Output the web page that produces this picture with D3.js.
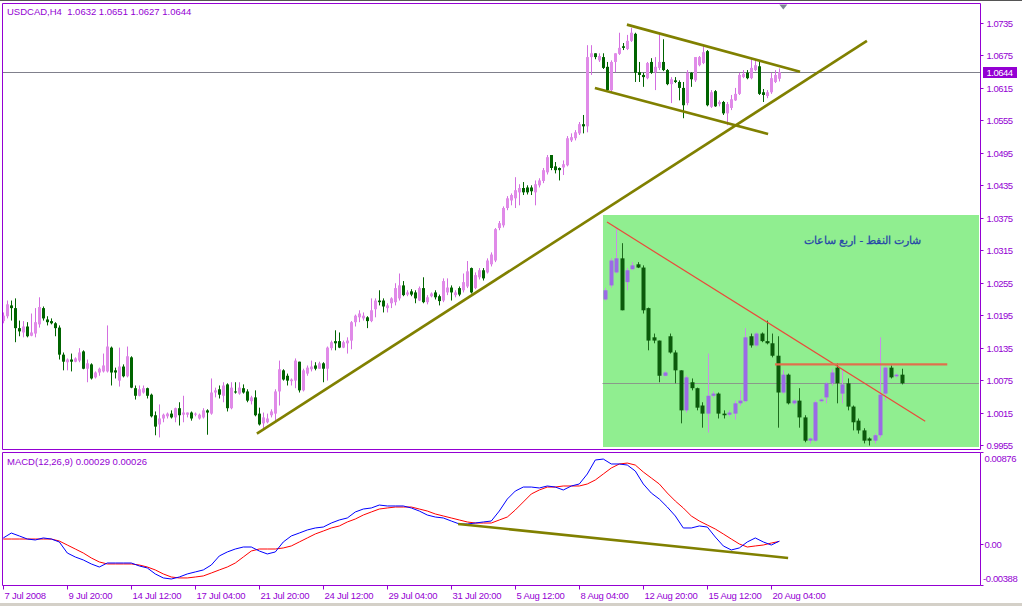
<!DOCTYPE html>
<html><head><meta charset="utf-8">
<script src="https://cdn.jsdelivr.net/npm/d3@7"></script>
<style>
html,body{margin:0;padding:0;background:#fff;overflow:hidden;}
svg{display:block;}
text{font-family:"Liberation Sans",Arial,sans-serif;}
</style></head><body>
<svg id="c" width="1022" height="606"></svg>
<script>
// ---------------- DATA ----------------
const symbolTitle = "USDCAD,H4  1.0632 1.0651 1.0627 1.0644";
const macdTitle = "MACD(12,26,9) 0.00029 0.00026";
const dateLabels = ["7 Jul 2008","9 Jul 20:00","14 Jul 12:00","17 Jul 04:00","21 Jul 20:00","24 Jul 12:00","29 Jul 04:00","31 Jul 20:00","5 Aug 12:00","8 Aug 04:00","12 Aug 20:00","15 Aug 12:00","20 Aug 04:00"];
const dateLabelBars = [0,16,32,48,64,80,96,112,128,144,160,176,192];
const priceTicks = [0.9955,1.0015,1.0075,1.0135,1.0195,1.0255,1.0315,1.0375,1.0435,1.0495,1.0555,1.0615,1.0675,1.0735];
const macdTicks = [0.00876,0.0,-0.00388];
const macdTickLabels = ["0.00876","0.00","-0.00388"];
const lastPrice = 1.0644;

const openP = [1.0184,1.0193,1.0213,1.0208,1.0171,1.0163,1.0174,1.0157,1.0161,1.0178,1.0208,1.0187,1.0184,1.0180,1.0172,1.0122,1.0108,1.0113,1.0109,1.0111,
1.0128,1.0096,1.0104,1.0080,1.0089,1.0091,1.0091,1.0135,1.0093,1.0074,1.0100,1.0082,1.0117,1.0060,1.0046,1.0052,1.0060,1.0048,1.0010,0.9993,
1.0004,1.0008,1.0013,1.0006,1.0023,1.0011,1.0011,1.0015,1.0011,1.0004,1.0006,1.0019,1.0013,1.0052,1.0058,1.0046,1.0067,1.0023,1.0054,1.0050,
1.0060,1.0054,1.0036,1.0043,1.0013,0.9995,0.9997,1.0010,1.0013,1.0054,1.0093,1.0083,1.0073,1.0074,1.0109,1.0056,1.0087,1.0095,1.0102,1.0096,
1.0106,1.0096,1.0134,1.0147,1.0147,1.0135,1.0143,1.0148,1.0182,1.0191,1.0189,1.0191,1.0184,1.0206,1.0222,1.0222,1.0208,1.0217,1.0219,1.0226,
1.0250,1.0233,1.0239,1.0237,1.0222,1.0245,1.0219,1.0230,1.0237,1.0230,1.0222,1.0237,1.0246,1.0232,1.0245,1.0241,1.0248,1.0282,1.0245,1.0265,
1.0278,1.0274,1.0289,1.0296,1.0356,1.0361,1.0393,1.0407,1.0411,1.0422,1.0430,1.0431,1.0431,1.0422,1.0435,1.0443,1.0459,1.0491,1.0470,1.0467,
1.0468,1.0472,1.0518,1.0522,1.0531,1.0548,1.0544,1.0672,1.0679,1.0666,1.0672,1.0654,1.0611,1.0663,1.0678,1.0692,1.0687,1.0702,1.0715,1.0644,
1.0639,1.0633,1.0663,1.0644,1.0652,1.0663,1.0648,1.0622,1.0629,1.0626,1.0615,1.0587,1.0643,1.0629,1.0657,1.0661,1.0683,1.0580,1.0609,1.0585,
1.0589,1.0568,1.0578,1.0592,1.0604,1.0635,1.0643,1.0633,1.0648,1.0655,1.0607,1.0600,1.0607,1.0626,1.0632];
const highP = [1.0200,1.0222,1.0222,1.0226,1.0185,1.0184,1.0182,1.0198,1.0208,1.0228,1.0211,1.0193,1.0189,1.0182,1.0176,1.0126,1.0115,1.0124,1.0117,1.0134,
1.0130,1.0113,1.0106,1.0091,1.0098,1.0124,1.0176,1.0137,1.0098,1.0135,1.0104,1.0137,1.0119,1.0065,1.0065,1.0065,1.0061,1.0050,1.0017,1.0030,
1.0013,1.0015,1.0019,1.0024,1.0034,1.0046,1.0015,1.0017,1.0015,1.0013,1.0023,1.0021,1.0078,1.0061,1.0065,1.0071,1.0069,1.0071,1.0071,1.0071,
1.0067,1.0058,1.0046,1.0056,1.0024,1.0015,1.0013,1.0021,1.0058,1.0111,1.0095,1.0087,1.0078,1.0115,1.0109,1.0096,1.0102,1.0111,1.0108,1.0109,
1.0108,1.0137,1.0148,1.0167,1.0163,1.0148,1.0154,1.0184,1.0196,1.0204,1.0200,1.0193,1.0226,1.0226,1.0241,1.0226,1.0217,1.0228,1.0254,1.0272,
1.0258,1.0241,1.0243,1.0241,1.0248,1.0265,1.0232,1.0237,1.0241,1.0233,1.0263,1.0263,1.0250,1.0241,1.0248,1.0272,1.0295,1.0283,1.0274,1.0282,
1.0282,1.0300,1.0311,1.0356,1.0369,1.0396,1.0415,1.0420,1.0450,1.0437,1.0441,1.0435,1.0435,1.0444,1.0448,1.0467,1.0491,1.0491,1.0478,1.0468,
1.0481,1.0526,1.0531,1.0537,1.0552,1.0565,1.0694,1.0694,1.0679,1.0679,1.0679,1.0663,1.0666,1.0679,1.0717,1.0698,1.0713,1.0726,1.0717,1.0663,
1.0643,1.0663,1.0670,1.0672,1.0717,1.0705,1.0650,1.0635,1.0635,1.0629,1.0626,1.0648,1.0644,1.0672,1.0674,1.0694,1.0685,1.0611,1.0611,1.0592,
1.0591,1.0589,1.0602,1.0615,1.0643,1.0648,1.0648,1.0670,1.0668,1.0666,1.0613,1.0611,1.0643,1.0648,1.0651];
const lowP = [1.0180,1.0189,1.0185,1.0145,1.0156,1.0154,1.0154,1.0156,1.0154,1.0172,1.0185,1.0176,1.0178,1.0156,1.0113,1.0093,1.0093,1.0091,1.0108,1.0108,
1.0095,1.0071,1.0076,1.0078,1.0083,1.0089,1.0089,1.0065,1.0078,1.0063,1.0080,1.0080,1.0060,1.0039,1.0045,1.0050,1.0041,1.0006,0.9973,0.9969,
0.9997,1.0004,1.0004,0.9997,0.9991,0.9997,1.0006,1.0000,1.0008,1.0002,1.0004,0.9974,1.0011,1.0043,1.0041,1.0034,1.0017,1.0021,1.0050,1.0048,
1.0050,1.0034,1.0030,1.0008,0.9991,0.9986,0.9995,1.0006,0.9997,1.0028,1.0074,1.0065,1.0065,1.0060,1.0052,1.0054,1.0083,1.0091,1.0093,1.0096,
1.0071,1.0074,1.0130,1.0130,1.0134,1.0134,1.0124,1.0132,1.0174,1.0182,1.0185,1.0171,1.0182,1.0191,1.0213,1.0200,1.0200,1.0208,1.0213,1.0222,
1.0230,1.0230,1.0230,1.0217,1.0221,1.0217,1.0215,1.0228,1.0224,1.0213,1.0219,1.0232,1.0222,1.0228,1.0230,1.0237,1.0245,1.0235,1.0243,1.0261,
1.0259,1.0272,1.0285,1.0293,1.0352,1.0357,1.0389,1.0398,1.0393,1.0398,1.0417,1.0418,1.0417,1.0398,1.0431,1.0439,1.0455,1.0463,1.0457,1.0444,
1.0454,1.0470,1.0515,1.0518,1.0528,1.0531,1.0533,1.0639,1.0668,1.0663,1.0650,1.0609,1.0607,1.0644,1.0676,1.0685,1.0685,1.0700,1.0626,1.0626,
1.0617,1.0631,1.0641,1.0611,1.0648,1.0646,1.0620,1.0587,1.0624,1.0592,1.0559,1.0583,1.0617,1.0626,1.0655,1.0659,1.0581,1.0578,1.0580,1.0581,
1.0565,1.0546,1.0574,1.0591,1.0602,1.0633,1.0631,1.0631,1.0646,1.0602,1.0589,1.0596,1.0604,1.0624,1.0627];
const closeP = [1.0194,1.0215,1.0208,1.0171,1.0165,1.0174,1.0156,1.0163,1.0182,1.0210,1.0189,1.0182,1.0180,1.0171,1.0122,1.0109,1.0113,1.0109,1.0115,1.0126,
1.0096,1.0106,1.0078,1.0089,1.0096,1.0102,1.0137,1.0089,1.0089,1.0100,1.0082,1.0119,1.0061,1.0046,1.0058,1.0060,1.0046,1.0008,0.9989,1.0004,
1.0011,1.0013,1.0006,1.0023,1.0010,1.0015,1.0015,1.0004,1.0013,1.0011,1.0019,1.0015,1.0052,1.0056,1.0048,1.0065,1.0023,1.0061,1.0052,1.0061,
1.0052,1.0037,1.0043,1.0010,0.9993,1.0006,1.0004,1.0017,1.0054,1.0095,1.0076,1.0074,1.0076,1.0111,1.0056,1.0093,1.0098,1.0100,1.0096,1.0106,
1.0096,1.0135,1.0145,1.0143,1.0135,1.0145,1.0148,1.0182,1.0194,1.0198,1.0194,1.0184,1.0204,1.0222,1.0219,1.0211,1.0213,1.0226,1.0245,1.0250,
1.0232,1.0237,1.0233,1.0226,1.0245,1.0219,1.0228,1.0235,1.0228,1.0221,1.0258,1.0246,1.0237,1.0237,1.0233,1.0256,1.0276,1.0237,1.0269,1.0278,
1.0263,1.0296,1.0307,1.0354,1.0365,1.0393,1.0411,1.0417,1.0426,1.0430,1.0422,1.0422,1.0424,1.0437,1.0444,1.0463,1.0487,1.0467,1.0463,1.0463,
1.0474,1.0522,1.0524,1.0533,1.0548,1.0544,1.0672,1.0679,1.0672,1.0674,1.0652,1.0611,1.0663,1.0679,1.0689,1.0689,1.0702,1.0717,1.0643,1.0639,
1.0635,1.0661,1.0643,1.0654,1.0663,1.0648,1.0622,1.0631,1.0626,1.0615,1.0583,1.0643,1.0631,1.0672,1.0672,1.0681,1.0583,1.0607,1.0581,1.0589,
1.0568,1.0585,1.0594,1.0604,1.0639,1.0641,1.0633,1.0652,1.0657,1.0604,1.0602,1.0607,1.0633,1.0639,1.0644];

// MACD values read every 2nd bar (bars 0,2,...,194)
const macdBarStep = 2;
const macdMain = [59e-5,106e-5,78e-5,49e-5,40e-5,59e-5,49e-5,21e-5,-84e-5,-122e-5,
-150e-5,-188e-5,-217e-5,-179e-5,-179e-5,-179e-5,-179e-5,-207e-5,-226e-5,-283e-5,
-321e-5,-331e-5,-312e-5,-283e-5,-264e-5,-245e-5,-198e-5,-112e-5,-74e-5,-46e-5,
-27e-5,-27e-5,-65e-5,-93e-5,-74e-5,21e-5,78e-5,106e-5,135e-5,154e-5,
163e-5,201e-5,230e-5,249e-5,306e-5,334e-5,344e-5,372e-5,363e-5,363e-5,
363e-5,344e-5,315e-5,277e-5,258e-5,249e-5,220e-5,192e-5,192e-5,201e-5,
211e-5,220e-5,315e-5,429e-5,505e-5,543e-5,543e-5,534e-5,553e-5,543e-5,
515e-5,553e-5,572e-5,667e-5,800e-5,809e-5,762e-5,762e-5,752e-5,695e-5,
572e-5,486e-5,429e-5,353e-5,268e-5,154e-5,154e-5,173e-5,163e-5,68e-5,
-17e-5,-55e-5,-36e-5,21e-5,59e-5,21e-5,-8e-5,29e-5];
const macdSignal = [49e-5,49e-5,49e-5,49e-5,49e-5,49e-5,49e-5,30e-5,-8e-5,-46e-5,
-84e-5,-131e-5,-169e-5,-188e-5,-188e-5,-188e-5,-188e-5,-198e-5,-217e-5,-245e-5,
-283e-5,-312e-5,-321e-5,-321e-5,-312e-5,-302e-5,-274e-5,-245e-5,-217e-5,-179e-5,
-122e-5,-65e-5,-46e-5,-46e-5,-46e-5,-36e-5,-17e-5,21e-5,59e-5,97e-5,
125e-5,154e-5,173e-5,211e-5,239e-5,277e-5,306e-5,334e-5,344e-5,353e-5,
353e-5,353e-5,334e-5,315e-5,287e-5,268e-5,249e-5,230e-5,211e-5,201e-5,
201e-5,201e-5,230e-5,258e-5,325e-5,401e-5,477e-5,515e-5,543e-5,543e-5,
553e-5,553e-5,553e-5,572e-5,610e-5,667e-5,724e-5,762e-5,771e-5,752e-5,
686e-5,629e-5,572e-5,486e-5,410e-5,344e-5,268e-5,220e-5,182e-5,144e-5,
97e-5,49e-5,2e-5,-27e-5,-17e-5,-8e-5,11e-5,26e-5];

// trend lines [bar, price]
const trendUp = [[63.4,0.9976],[215.9,1.0702]];
const channelTop = [[155.9,1.0732],[199.2,1.0645]];
const channelBottom = [[147.9,1.0615],[191.2,1.0530]];
const macdTrend = [[113.7,0.00192],[196.2,-0.00131]];

// Inset picture (oil chart, 4h) – candles read against main price axis
const insetOpen = [1.0224,1.0250,1.0274,1.0300,1.0256,1.0280,1.0289,1.0283,1.0208,1.0154,1.0148,1.0083,1.0156,1.0126,1.0093,1.0019,1.0071,1.0060,1.0028,1.0013,
1.0046,1.0050,1.0013,1.0011,1.0013,1.0032,1.0036,1.0156,1.0139,1.0161,1.0147,1.0143,1.0120,1.0052,1.0085,1.0032,1.0037,1.0006,0.9963,0.9963,
1.0036,1.0043,1.0069,1.0098,1.0050,1.0069,1.0026,1.0000,0.9982,0.9967,0.9963,0.9973,1.0050,1.0098,1.0082,1.0085];
const insetHigh = [1.0245,1.0300,1.0358,1.0328,1.0282,1.0293,1.0293,1.0287,1.0209,1.0161,1.0148,1.0091,1.0161,1.0130,1.0093,1.0083,1.0078,1.0061,1.0034,1.0124,
1.0054,1.0052,1.0019,1.0019,1.0037,1.0056,1.0171,1.0161,1.0163,1.0163,1.0185,1.0161,1.0156,1.0093,1.0087,1.0039,1.0060,1.0010,0.9969,1.0037,
1.0041,1.0071,1.0095,1.0106,1.0095,1.0078,1.0028,1.0004,0.9986,0.9969,0.9976,1.0154,1.0100,1.0102,1.0087,1.0096];
const insetLow = [1.0222,1.0246,1.0272,1.0204,1.0241,1.0278,1.0282,1.0198,1.0130,1.0143,1.0071,1.0082,1.0124,1.0069,0.9995,1.0015,1.0056,1.0019,0.9987,0.9978,
1.0043,1.0004,1.0004,1.0008,1.0002,1.0028,1.0034,1.0135,1.0137,1.0145,1.0141,1.0117,0.9987,1.0050,1.0030,1.0030,0.9987,0.9960,0.9958,0.9961,
1.0034,1.0032,1.0065,1.0032,1.0032,1.0019,0.9982,0.9976,0.9958,0.9954,0.9958,0.9969,1.0037,1.0078,1.0080,1.0067];
const insetClose = [1.0241,1.0296,1.0300,1.0204,1.0278,1.0287,1.0283,1.0204,1.0148,1.0148,1.0083,1.0089,1.0126,1.0093,1.0019,1.0080,1.0060,1.0024,1.0013,1.0046,
1.0050,1.0013,1.0010,1.0015,1.0032,1.0037,1.0154,1.0139,1.0161,1.0147,1.0143,1.0120,1.0052,1.0085,1.0032,1.0037,1.0006,0.9963,0.9967,1.0034,
1.0039,1.0069,1.0089,1.0069,1.0067,1.0026,0.9997,0.9982,0.9963,0.9963,0.9973,1.0048,1.0098,1.0080,1.0085,1.0069];
const insetBox = [[149.8,1.0381],[243.9,0.9952]];      // [bar, price] corners of the pasted picture
const insetTrendDown = [[0.3,1.0367],[59.4,0.9999]];    // [inset bar, price]
const insetResistance = [[31.5,1.0104],[63.5,1.0104]];
const insetLastPrice = 1.0069;
const insetTitle = "شارت النفط - اربع ساعات";

// ---------------- LAYOUT ----------------
const purple = "#9400d3";
const svg = d3.select("#c");
const paneL = 2.5, paneR = 980.5, mainT = 3.5, mainB = 449.5, macdT = 452.5, macdB = 585.5;

const x = d3.scaleLinear().domain([0,194]).range([3.3,779.3]);
const y = d3.scaleLinear().domain([0.9955,1.0735]).range([445,23]);
const ym = d3.scaleLinear().domain([-0.00388,0.00876]).range([585,452]);
const xi = d3.scaleLinear().domain([0,55]).range([605.4,901.5]);

svg.append("rect").attr("width",1022).attr("height",606).attr("fill","#fff");
svg.append("rect").attr("x",0).attr("y",0).attr("width",1022).attr("height",1).attr("fill","#555");
svg.append("rect").attr("x",0).attr("y",603).attr("width",1022).attr("height",3).attr("fill","#d4d0c8");

const defs = svg.append("defs");
defs.append("clipPath").attr("id","clipMain").append("rect")
  .attr("x",paneL+0.5).attr("y",mainT+0.5).attr("width",paneR-paneL-1).attr("height",mainB-mainT-1);
defs.append("clipPath").attr("id","clipMacd").append("rect")
  .attr("x",paneL+0.5).attr("y",macdT+0.5).attr("width",paneR-paneL-1).attr("height",macdB-macdT-1);

const gMain = svg.append("g").attr("clip-path","url(#clipMain)");

// inset picture
const ib = insetBox;
gMain.append("rect")
  .attr("x",Math.round(x(ib[0][0]))).attr("y",Math.round(y(ib[0][1])))
  .attr("width",Math.round(x(ib[1][0]))-Math.round(x(ib[0][0])))
  .attr("height",Math.round(y(ib[1][1]))-Math.round(y(ib[0][1])))
  .attr("fill","#90ee90");
gMain.append("line")
  .attr("x1",x(ib[0][0])).attr("x2",x(ib[1][0]))
  .attr("y1",Math.round(y(insetLastPrice))+0.5).attr("y2",Math.round(y(insetLastPrice))+0.5)
  .attr("stroke","#8a9a8a").attr("stroke-width",1);

const ibars = d3.range(insetOpen.length).map(j=>({j,o:insetOpen[j],h:insetHigh[j],l:insetLow[j],c:insetClose[j]}));
gMain.selectAll("line.iw").data(ibars).join("line").attr("class","iw")
  .attr("x1",d=>Math.round(xi(d.j))+0.5).attr("x2",d=>Math.round(xi(d.j))+0.5)
  .attr("y1",d=>y(d.h)).attr("y2",d=>y(d.l))
  .attr("stroke",d=>d.c>=d.o?"#c98de8":"#1d6b1d").attr("stroke-width",1);
gMain.selectAll("rect.ib").data(ibars).join("rect").attr("class","ib")
  .attr("x",d=>Math.round(xi(d.j))-1.5).attr("width",4)
  .attr("y",d=>y(Math.max(d.o,d.c))).attr("height",d=>Math.max(1.5,y(Math.min(d.o,d.c))-y(Math.max(d.o,d.c))))
  .attr("fill",d=>d.c>=d.o?"#9b6ae6":"#0b5a0b");

const line = d3.line().x(d=>xi(d[0])).y(d=>y(d[1]));
gMain.append("path").attr("d",line(insetTrendDown)).attr("fill","none").attr("stroke","#ea4a3a").attr("stroke-width",1.2);
gMain.append("path").attr("d",line(insetResistance)).attr("fill","none").attr("stroke","#e0704c").attr("stroke-width",2.2);
gMain.append("text").attr("x",xi(47.8))
  .attr("y",y(1.0326)).attr("text-anchor","middle").attr("direction","rtl")
  .attr("font-family","DejaVu Sans").attr("font-size","11px").attr("fill","#2645a8")
  .attr("stroke","#2645a8").attr("stroke-width",0.25)
  .text(insetTitle);

// last price line
gMain.append("line").attr("x1",paneL).attr("x2",paneR)
  .attr("y1",Math.round(y(lastPrice))+0.5).attr("y2",Math.round(y(lastPrice))+0.5)
  .attr("stroke","#80808c").attr("stroke-width",1);

// main candles
const bars = d3.range(openP.length).map(i=>({i,o:openP[i],h:highP[i],l:lowP[i],c:closeP[i]}));
gMain.selectAll("line.w").data(bars).join("line").attr("class","w")
  .attr("x1",d=>Math.round(x(d.i))+0.5).attr("x2",d=>Math.round(x(d.i))+0.5)
  .attr("y1",d=>y(d.h)).attr("y2",d=>y(d.l))
  .attr("stroke",d=>d.c>=d.o?"#d46ee0":"#006400").attr("stroke-width",1);
gMain.selectAll("rect.b").data(bars).join("rect").attr("class","b")
  .attr("x",d=>Math.round(x(d.i))-1).attr("width",3)
  .attr("y",d=>y(Math.max(d.o,d.c))).attr("height",d=>Math.max(1,y(Math.min(d.o,d.c))-y(Math.max(d.o,d.c))))
  .attr("fill",d=>d.c>=d.o?"#e08ae8":"#006400");

// trend lines
const tl = d3.line().x(d=>x(d[0])).y(d=>y(d[1]));
[trendUp,channelTop,channelBottom].forEach(t=>{
  gMain.append("path").attr("d",tl(t)).attr("fill","none").attr("stroke","#808000").attr("stroke-width",2.6);
});

// chart-shift marker
const mx = x(195);
svg.append("path").attr("d",d3.line()([[mx-4,mainT+1],[mx+4,mainT+1],[mx,mainT+6]])+"Z").attr("fill","#7c8494");

// MACD pane
const gM = svg.append("g").attr("clip-path","url(#clipMacd)");
const ml = d3.line().x((d,k)=>x(k*macdBarStep)).y(d=>ym(d));
gM.append("path").attr("d",ml(macdSignal)).attr("fill","none").attr("stroke","#ff0000").attr("stroke-width",1);
gM.append("path").attr("d",ml(macdMain)).attr("fill","none").attr("stroke","#0000ff").attr("stroke-width",1);
gM.append("path").attr("d",d3.line().x(d=>x(d[0])).y(d=>ym(d[1]))(macdTrend)).attr("fill","none").attr("stroke","#808000").attr("stroke-width",2.6);

// frames
const fr = svg.append("g").attr("fill","none").attr("stroke",purple).attr("stroke-width",1);
fr.append("path").attr("d",`M${paneL},${mainT}H${paneR}V${mainB}H${paneL}Z`);
fr.append("path").attr("d",`M${paneL},${macdT}H${paneR}V${macdB}H${paneL}Z`);

// price axis
const pa = svg.append("g");
priceTicks.forEach(p=>{
  const yy = Math.round(y(p))+0.5;
  pa.append("line").attr("x1",paneR).attr("x2",paneR+3).attr("y1",yy).attr("y2",yy).attr("stroke",purple);
  pa.append("text").attr("x",986.5).attr("y",yy).attr("dy","0.35em").attr("font-size","9.5px").attr("letter-spacing","-0.5px").attr("fill",purple).text(p.toFixed(4));
});
const lpY = Math.round(y(lastPrice));
pa.append("rect").attr("x",983).attr("y",lpY-5).attr("width",34).attr("height",11).attr("fill",purple);
pa.append("text").attr("x",986.5).attr("y",lpY+0.5).attr("dy","0.35em").attr("font-size","9.5px").attr("letter-spacing","-0.5px").attr("fill","#fff").text(lastPrice.toFixed(4));

// MACD axis
macdTicks.forEach((v,k)=>{
  const yy = Math.round(ym(v))+0.5;
  pa.append("line").attr("x1",paneR).attr("x2",paneR+3).attr("y1",yy).attr("y2",yy).attr("stroke",purple);
  const ty = k===0? yy+6 : (k===2? yy-7 : yy);
  pa.append("text").attr("x",k===2?983:984.5).attr("y",ty).attr("dy","0.35em").attr("font-size","9.5px").attr("letter-spacing","-0.4px").attr("fill",purple).text(macdTickLabels[k]);
});

// time axis
dateLabelBars.forEach((b,k)=>{
  const xx = Math.round(x(b))+0.5;
  pa.append("line").attr("x1",xx).attr("x2",xx).attr("y1",macdB).attr("y2",macdB+4).attr("stroke",purple);
  pa.append("text").attr("x",xx+1).attr("y",598.5).attr("font-size","9.5px").attr("letter-spacing","-0.25px").attr("fill",purple).text(dateLabels[k]);
});

// titles
svg.append("text").attr("x",7).attr("y",15).attr("font-size","9.5px").attr("fill",purple).style("white-space","pre").text(symbolTitle);
svg.append("text").attr("x",7).attr("y",465).attr("font-size","9.5px").attr("fill",purple).text(macdTitle);
</script>
</body></html>
